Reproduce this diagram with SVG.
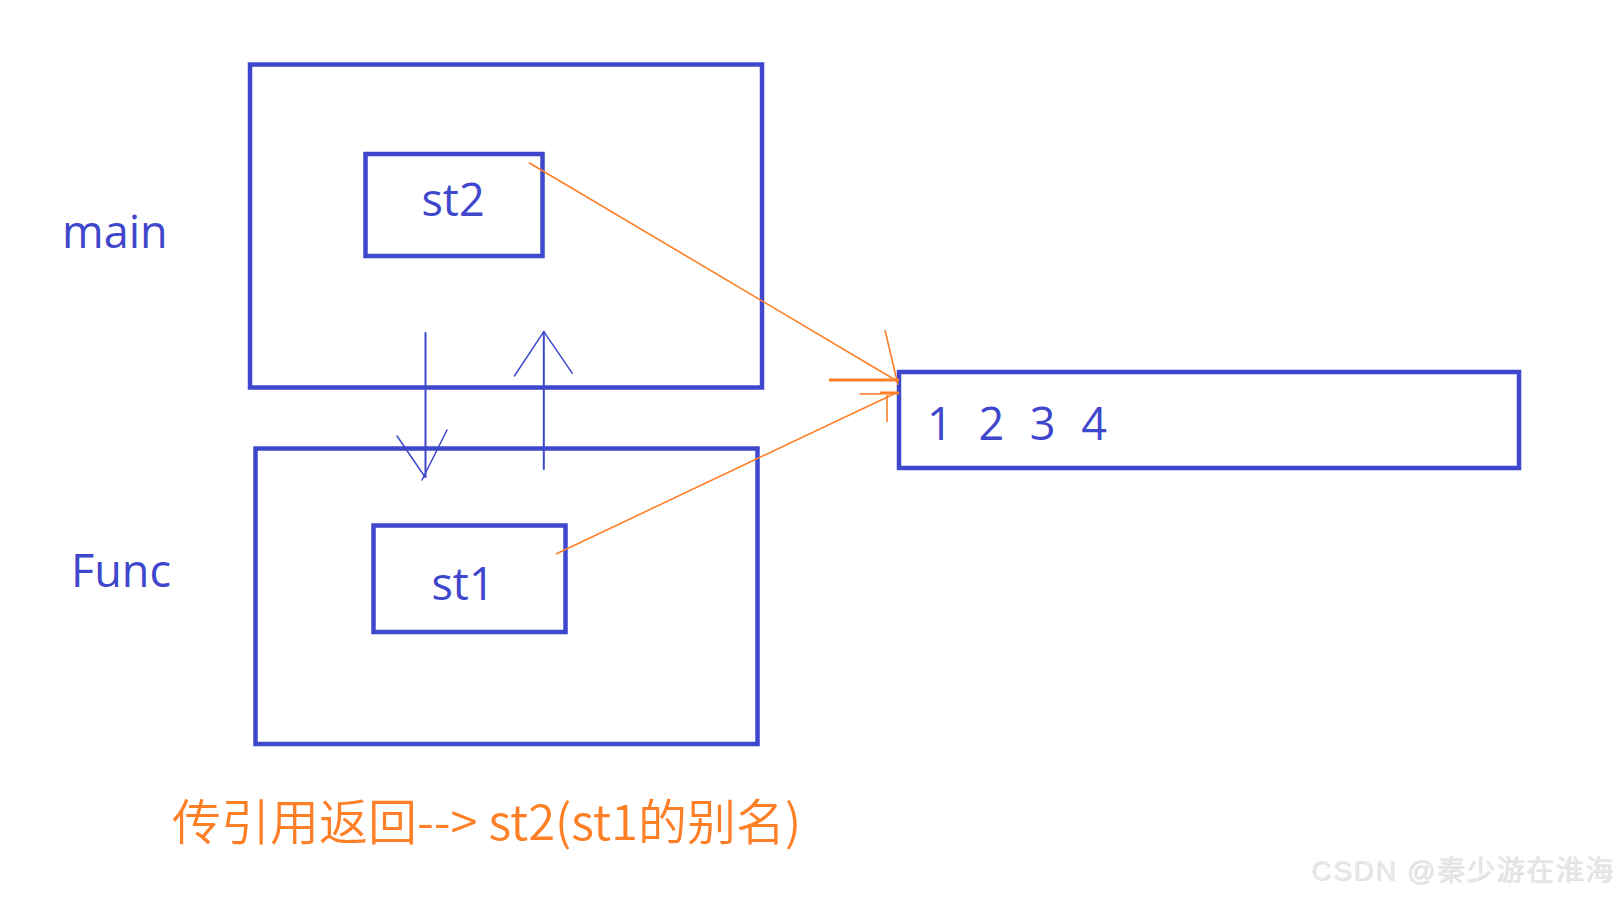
<svg xmlns="http://www.w3.org/2000/svg" width="1623" height="903" viewBox="0 0 1623 903">
<style>
.box{fill:none;stroke:#3F48CC;stroke-width:4.5}
.lbl{font-family:"Open Sans","Noto Sans","Noto Sans CJK SC",sans-serif;font-weight:400;font-size:45px;fill:#3F48CC}
.blue{stroke:#3F48CC;stroke-width:2;fill:none;stroke-linecap:round}
.bluet{stroke:#3F48CC;stroke-width:1.5;fill:none;stroke-linecap:round}
.or{stroke:#FF7F27;stroke-width:1.6;fill:none}
.orb{stroke:#FF7F27;stroke-width:3;fill:none}
.cap{font-family:"Noto Sans CJK SC","Noto Sans",sans-serif;font-weight:350;font-size:49px;fill:#FF7F27}
.wm{font-family:"Liberation Sans","Noto Sans CJK SC",sans-serif;font-size:28px;fill:#e8e8e8;letter-spacing:1.7px}
</style>
<defs>
<filter id="emb" x="-5%" y="-30%" width="110%" height="160%">
<feDropShadow dx="0.6" dy="0.6" stdDeviation="0.4" flood-color="#a8a8a8" flood-opacity="0.6"/>
</filter>
</defs>
<rect width="1623" height="903" fill="#ffffff"/>
<g id="main">
<rect class="box" x="250" y="64.5" width="512" height="323"/>
<text class="lbl" x="62" y="248">main</text>
</g>
<g id="st2">
<rect class="box" x="365.5" y="154" width="177" height="102"/>
<text class="lbl" x="453" y="216" text-anchor="middle">st2</text>
</g>
<g id="func">
<rect class="box" x="255.5" y="448.5" width="502" height="295.5"/>
<text class="lbl" x="71" y="587">Func</text>
</g>
<g id="st1">
<rect class="box" x="373.5" y="525.5" width="192" height="106.5"/>
<text class="lbl" x="463" y="600" text-anchor="middle">st1</text>
</g>
<g id="array">
<rect class="box" x="899" y="372" width="620" height="96"/>
<text class="lbl" x="927" y="440" xml:space="preserve" word-spacing="14">1 2 3 4</text>
</g>
<g id="connectors">
<line class="blue" x1="425.5" y1="333" x2="425.5" y2="477"/>
<line class="bluet" x1="397" y1="436" x2="425" y2="477"/>
<line class="bluet" x1="447" y1="430" x2="422" y2="480"/>
<line class="blue" x1="543.8" y1="469" x2="543.8" y2="331.7"/>
<line class="bluet" x1="514.4" y1="376" x2="543.8" y2="331.7"/>
<line class="bluet" x1="572.4" y1="373.3" x2="543.8" y2="331.7"/>
<line class="or" x1="529" y1="162.7" x2="897" y2="381"/>
<line class="orb" x1="829" y1="380" x2="899" y2="380"/>
<line class="or" x1="885" y1="330" x2="898" y2="385"/>
<line class="or" x1="556" y1="554" x2="897" y2="392.5"/>
<line class="or" x1="859.5" y1="394" x2="880" y2="394"/>
<line class="orb" x1="880" y1="393" x2="899" y2="393"/>
<line class="or" x1="887" y1="395" x2="887" y2="422"/>
</g>
<text class="cap" x="172" y="840">传引用返回--&gt; st2(st1的别名)</text>
<text class="wm" x="1311" y="880" filter="url(#emb)">CSDN @秦少游在淮海</text>
</svg>
